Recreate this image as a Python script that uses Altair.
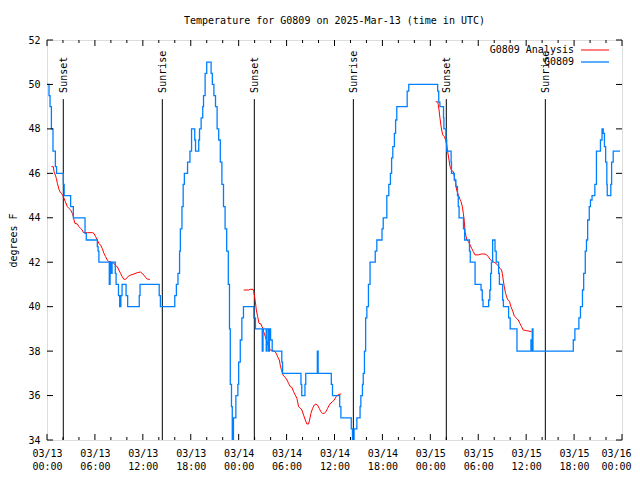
import json
import altair as alt
import pandas as pd

# ---------------- data (hours since 2025-03-13 00:00 UTC, degrees F) ----------------
blue_hours = [0.0, 0.25, 0.38, 0.55, 0.75, 1.05, 1.2, 2.05, 2.15, 2.96, 3.3, 4.76, 4.92,
              6.3, 6.4, 6.5, 7.8, 7.9, 8.05, 8.15, 8.55, 8.65, 8.95, 9.1, 9.25, 9.4, 9.9,
              10.1, 11.55, 11.65, 14.05, 14.2, 16.0, 16.2, 16.4, 16.6, 16.7, 16.9, 17.05,
              17.2, 17.6, 17.9, 18.1, 18.5, 18.6, 19.0, 19.1, 19.3, 19.5, 19.6, 19.8, 20.0,
              20.55, 20.7, 20.9, 21.1, 21.3, 21.5, 21.7, 21.9, 22.1, 22.3, 22.5, 22.7, 22.85,
              22.95, 23.1, 23.2, 23.35, 23.65, 23.9, 24.0, 24.2, 24.4, 24.6, 25.9, 26.1,
              26.95, 27.05, 27.45, 27.55, 27.75, 27.85, 28.0, 28.2, 29.4, 29.5, 31.8, 31.9,
              32.3, 32.4, 33.85, 33.95, 35.6, 35.75, 36.65, 36.8, 38.1, 38.25, 38.45, 38.8,
              39.2, 39.3, 39.5, 39.6, 39.75, 39.9, 40.05, 40.25, 40.45, 41.1, 41.3, 41.95,
              42.1, 42.55, 42.8, 43.0, 43.15, 43.3, 43.5, 43.65, 43.8, 45.1, 45.3, 48.92,
              49.05, 49.2, 49.65, 49.7, 49.95, 50.05, 50.6, 50.65, 51.0, 51.2, 51.4, 51.5,
              51.6, 52.15, 52.3, 52.9, 53.0, 53.6, 54.35, 54.5, 54.6, 55.3, 55.45, 55.55,
              55.65, 55.8, 56.1, 56.25, 56.55, 56.65, 57.05, 57.15, 57.8, 58.0, 58.85, 60.6,
              60.68, 60.76, 60.85, 65.9, 66.1, 66.6, 66.8, 67.05, 67.2, 67.4, 67.55, 67.7,
              67.9, 68.05, 68.25, 68.6, 68.8, 69.3, 69.5, 69.65, 69.8, 69.95, 70.1, 70.15,
              70.6, 70.7, 70.9, 71.75]
blue_temps = [50.0, 49.5, 49.0, 48.0, 47.0, 46.3, 46.0, 45.5, 45.0, 44.5, 44.0, 43.3, 43.0,
              42.7, 42.5, 42.0, 41.0, 42.0, 41.5, 42.0, 41.5, 41.0, 40.5, 40.0, 40.5, 41.0, 40.5,
              40.0, 40.5, 41.0, 40.5, 40.0, 40.5, 41.0, 41.5, 42.5, 43.5, 44.5, 45.5,
              46.0, 46.5, 47.0, 48.0, 47.5, 47.0, 47.5, 48.0, 48.5, 49.0, 49.5, 50.5, 51.0,
              50.5, 50.0, 49.5, 49.0, 48.0, 47.5, 46.5, 45.5, 44.5, 43.5, 42.5, 41.0, 39.0,
              36.5, 35.5, 33.5, 35.0, 36.0, 36.5, 37.5, 38.5, 39.5, 40.0, 39.5, 39.0,
              38.0, 39.0, 38.0, 39.0, 38.0, 39.0, 38.5, 38.0, 37.5, 37.0, 36.5, 36.0,
              36.5, 37.0, 38.0, 37.0, 36.5, 36.0, 35.5, 35.0, 34.5, 33.5, 34.5, 35.0,
              35.5, 36.0, 36.5, 37.0, 38.0, 39.5, 40.0, 41.0, 42.0, 42.5, 43.0, 43.5,
              44.0, 45.0, 45.5, 46.0, 46.7, 47.2, 47.8, 48.4, 49.0, 49.7, 50.0, 49.7,
              49.2, 49.0, 48.5, 48.0, 47.5, 47.0, 46.5, 46.0, 45.7, 45.4, 45.0, 44.5,
              44.0, 43.5, 43.0, 42.5, 42.0, 41.0, 40.75, 40.3, 40.0, 40.3, 40.75, 41.5,
              42.0, 43.0, 42.5, 42.0, 41.5, 41.0, 40.3, 40.0, 39.5, 39.0, 38.0, 38.5,
              38.0, 39.0, 38.0, 38.5, 39.0, 39.5, 40.0, 40.75, 41.5, 42.5, 43.0, 43.9,
              44.5, 44.8, 45.0, 45.5, 47.0, 47.5, 48.0, 47.8, 47.2, 46.5, 45.5, 45.0,
              45.5, 46.5, 47.0, 47.0]

red1_hours = [0.55, 0.8, 0.88, 1.05, 1.17, 1.3, 1.5, 1.63, 1.8, 1.96, 2.13, 2.3, 2.55, 2.75,
              2.96, 3.17, 3.3, 3.38, 3.5, 3.8, 4.0, 4.21, 4.42, 4.55, 5.05, 5.67, 5.88, 6.09,
              6.3, 6.5, 6.71, 6.92, 7.13, 7.34, 7.55, 7.75, 7.96, 8.38, 8.59, 8.8, 9.0, 9.21,
              9.42, 9.63, 9.84, 10.05, 10.25, 10.46, 10.88, 11.3, 11.71, 11.92, 12.13, 12.34,
              12.55, 12.88]
red1_temps = [46.3, 46.3, 46.07, 45.92, 45.77, 45.55, 45.28, 45.17, 45.1, 45.02, 44.88, 44.72,
              44.5, 44.42, 44.35, 44.2, 44.05, 43.9, 43.75, 43.72, 43.6, 43.52, 43.45, 43.34,
              43.33, 43.33, 43.3, 43.15, 43.0, 42.85, 42.77, 42.62, 42.4, 42.25, 42.1, 42.02,
              42.02, 41.95, 41.84, 41.8, 41.65, 41.5, 41.35, 41.23, 41.23, 41.32, 41.38, 41.42,
              41.47, 41.53, 41.56, 41.5, 41.42, 41.32, 41.24, 41.23]
red2_hours = [24.63, 25.25, 25.46, 25.8, 25.88, 25.96, 26.09, 26.21, 26.38, 26.55, 26.8, 26.92,
              27.05, 27.13, 27.34, 27.55, 27.75, 27.96, 28.3, 28.59, 28.8, 28.92, 29.09, 29.21,
              29.34, 29.5, 29.63, 29.84, 30.05, 30.25, 30.46, 30.67, 30.88, 31.09, 31.3, 31.5,
              31.71, 31.92, 32.13, 32.34, 32.55, 32.75, 32.88, 33.05, 33.25, 33.46, 33.67,
              33.88, 34.09, 34.3, 34.5, 34.71, 34.92, 35.13, 35.34, 35.55, 35.75, 35.96, 36.21,
              36.38, 36.71, 36.84]
red2_temps = [40.75, 40.75, 40.78, 40.78, 40.68, 40.53, 40.23, 39.85, 39.55, 39.25, 39.22, 39.1,
              39.02, 38.87, 38.65, 38.42, 38.2, 38.05, 38.02, 37.97, 37.82, 37.72, 37.6, 37.37,
              37.18, 36.97, 36.88, 36.82, 36.7, 36.55, 36.4, 36.37, 36.17, 36.02, 35.87, 35.5,
              35.44, 35.35, 35.12, 34.9, 34.72, 34.72, 34.9, 35.2, 35.42, 35.57, 35.62, 35.57,
              35.42, 35.27, 35.2, 35.2, 35.27, 35.42, 35.57, 35.67, 35.72, 35.8, 35.95, 36.02,
              36.07, 36.07]
red3_hours = [48.67, 48.92, 49.0, 49.09, 49.21, 49.34, 49.42, 49.55, 49.76, 49.92, 50.05, 50.17,
              50.34, 50.47, 50.67, 50.88, 51.01, 51.17, 51.3, 51.51, 51.72, 51.84, 52.01, 52.13,
              52.26, 52.34, 52.55, 52.76, 52.97, 53.17, 53.38, 53.59, 54.01, 54.42, 54.84,
              55.05, 55.26, 55.47, 55.67, 56.09, 56.42, 56.72, 56.92, 57.01, 57.13, 57.26,
              57.42, 57.67, 57.92, 58.09, 58.34, 58.51, 58.8, 59.01, 59.21, 59.42, 59.63, 60.05,
              60.67]
red3_temps = [49.22, 49.22, 49.08, 48.85, 48.48, 48.13, 47.95, 47.73, 47.65, 47.5, 47.28, 46.98,
              46.6, 46.3, 46.12, 46.08, 45.85, 45.55, 45.25, 45.03, 44.83, 44.73, 44.5, 44.2,
              43.83, 43.38, 43.03, 42.93, 42.78, 42.63, 42.48, 42.33, 42.33, 42.37, 42.37,
              42.33, 42.25, 42.13, 42.07, 41.98, 41.88, 41.73, 41.65, 41.5, 41.2, 40.9, 40.6,
              40.33, 40.23, 40.0, 39.78, 39.58, 39.48, 39.4, 39.25, 39.1, 38.95, 38.92, 38.88]

event_hours = [2.04, 14.44, 25.96, 38.36, 50.0, 62.4]
event_names = ["Sunset", "Sunrise", "Sunset", "Sunrise", "Sunset", "Sunrise"]

x_tick_hours = list(range(0, 73, 6))
x_minor_hours = [h for h in range(0, 73, 2) if h % 6 != 0]
x_label_dates = ["03/13", "03/13", "03/13", "03/13", "03/14", "03/14", "03/14", "03/14",
                 "03/15", "03/15", "03/15", "03/15", "03/16"]
x_label_times = ["00:00", "06:00", "12:00", "18:00"] * 3 + ["00:00"]
y_ticks = list(range(34, 53, 2))

series_names = ["G0809 Analysis", "G0809"]
series_colors = ["#ff0000", "#0080ff"]
title_text = "Temperature for G0809 on 2025-Mar-13 (time in UTC)"
y_title = "degrees F"

# ---------------- chart ----------------
W, H = 575, 400
FONT = "DejaVu Sans Mono"
FS = 10
xs = alt.Scale(domain=[0, 72], nice=False, zero=False)
ys = alt.Scale(domain=[34, 52], nice=False, zero=False)

blue_df = pd.DataFrame({"hour": blue_hours, "temp": blue_temps})
red_df = pd.concat([
    pd.DataFrame({"hour": h, "temp": t, "seg": i})
    for i, (h, t) in enumerate([(red1_hours, red1_temps), (red2_hours, red2_temps),
                                (red3_hours, red3_temps)])
])
ev_df = pd.DataFrame({"hour": event_hours, "name": event_names})

label_expr = (f"[{json.dumps(x_label_dates)}[round(datum.value/6)], "
              f"{json.dumps(x_label_times)}[round(datum.value/6)]]")

x_axis = alt.Axis(values=x_tick_hours, labelExpr=label_expr, ticks=False, tickSize=0,
                  domain=False, grid=False, title=None, labelFont=FONT, labelFontSize=FS,
                  labelColor="black", labelPadding=8, labelLineHeight=13,
                  labelOffset=alt.condition("datum.value >= 72", alt.value(-6), alt.value(0)),
                  labelFlush=False, labelOverlap=False, labelBound=False)
y_axis = alt.Axis(values=y_ticks, ticks=False, tickSize=0, domain=False, grid=False,
                  title=y_title, titleFont=FONT, titleFontSize=FS, titleFontWeight="normal",
                  titleColor="black", titleAngle=270, titleAlign="center",
                  titleBaseline="middle", titleX=-34, titleY=H / 2,
                  labelFont=FONT, labelFontSize=FS, labelColor="black", labelPadding=7,
                  labelFlush=False, labelOverlap=False, labelBound=False)

ev_lines = alt.Chart(ev_df).transform_calculate(top="49.34", bot="34").mark_rule(
    color="black", strokeWidth=1).encode(
    x=alt.X("hour:Q", scale=xs, axis=x_axis),
    y=alt.Y("top:Q", scale=ys, axis=y_axis),
    y2="bot:Q")

ev_text = alt.Chart(ev_df).transform_calculate(lv="49.62").mark_text(
    angle=270, align="left", baseline="middle", font=FONT, fontSize=FS, color="black",
    dy=1).encode(
    x=alt.X("hour:Q", scale=xs), y=alt.Y("lv:Q", scale=ys), text="name:N")

red = alt.Chart(red_df).mark_line(color=series_colors[0], strokeWidth=1, clip=True).encode(
    x=alt.X("hour:Q", scale=xs), y=alt.Y("temp:Q", scale=ys), detail="seg:N")

blue = alt.Chart(blue_df).mark_line(color=series_colors[1], strokeWidth=1.3, clip=True,
                                    interpolate="step-after").encode(
    x=alt.X("hour:Q", scale=xs), y=alt.Y("temp:Q", scale=ys))

# inward tick marks on all four sides
maj_df = pd.DataFrame({"hour": x_tick_hours})
min_df = pd.DataFrame({"hour": x_minor_hours})
yt_df = pd.DataFrame({"temp": y_ticks})
tick_layers = []
for df, ln in [(maj_df, 6), (min_df, 3)]:
    tick_layers.append(alt.Chart(df).mark_rule(color="black").encode(
        x=alt.X("hour:Q", scale=xs), y=alt.value(0), y2=alt.value(ln)))
    tick_layers.append(alt.Chart(df).mark_rule(color="black").encode(
        x=alt.X("hour:Q", scale=xs), y=alt.value(H), y2=alt.value(H - ln)))
tick_layers.append(alt.Chart(yt_df).mark_rule(color="black").encode(
    y=alt.Y("temp:Q", scale=ys), x=alt.value(0), x2=alt.value(6)))
tick_layers.append(alt.Chart(yt_df).mark_rule(color="black").encode(
    y=alt.Y("temp:Q", scale=ys), x=alt.value(W), x2=alt.value(W - 6)))

# legend (top right, label left of sample line)
leg_layers = []
for i, (nm, col) in enumerate(zip(series_names, series_colors)):
    ldf = pd.DataFrame({"name": [nm]})
    leg_layers.append(alt.Chart(ldf).mark_text(align="right", baseline="middle", font=FONT,
                                               fontSize=FS, color="black").encode(
        text="name:N", x=alt.value(527), y=alt.value(10 + 12 * i)))
    leg_layers.append(alt.Chart(ldf).mark_rule(color=col, strokeWidth=1.3 if i else 1).encode(
        x=alt.value(534), x2=alt.value(562), y=alt.value(10 + 12 * i)))

chart = alt.layer(ev_lines, ev_text, red, blue, *tick_layers, *leg_layers).properties(
    width=W, height=H,
    title=alt.TitleParams(title_text, font=FONT, fontSize=FS, fontWeight="normal",
                          color="black", anchor="middle", baseline="alphabetic", offset=1),
    autosize=alt.AutoSizeParams(type="none"),
    padding={"left": 39, "top": 32, "right": 10, "bottom": 30},
    background="white",
).configure_view(stroke="black", strokeWidth=1).configure(font=FONT)

chart.save("out.html", embed_options={"renderer": "svg", "actions": False})
